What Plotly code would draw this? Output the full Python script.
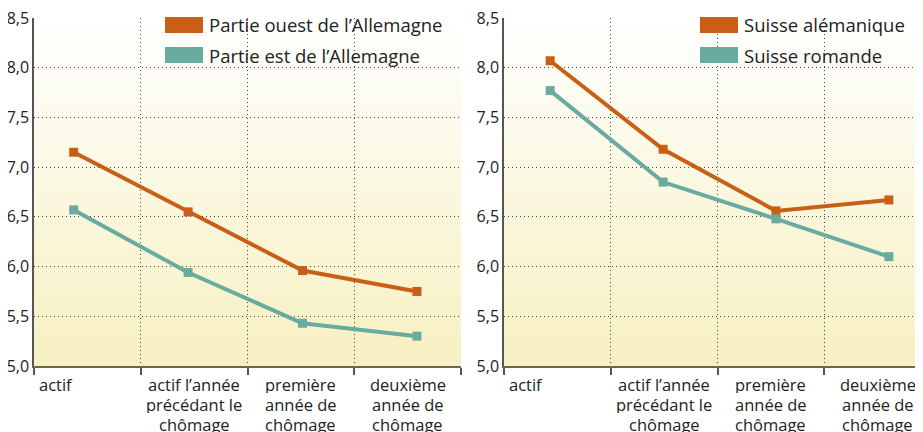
import plotly.graph_objects as go

# ---------------- data ----------------
categories = ["actif",
              "actif l’année<br>précédant le<br>chômage",
              "première<br>année de<br>chômage",
              "deuxième<br>année de<br>chômage"]
x_index = [0, 1, 2, 3]

germany_names = ["Partie ouest de l’Allemagne", "Partie est de l’Allemagne"]
west_germany = [7.15, 6.55, 5.96, 5.75]
east_germany = [6.57, 5.94, 5.43, 5.30]

swiss_names = ["Suisse alémanique", "Suisse romande"]
swiss_german = [8.07, 7.18, 6.56, 6.67]
swiss_french = [7.77, 6.85, 6.48, 6.10]

y_ticks = [5.0, 5.5, 6.0, 6.5, 7.0, 7.5, 8.0, 8.5]
y_grid = [5.5, 6.0, 6.5, 7.0, 7.5, 8.0]
boundaries = [-0.5, 0.5, 1.5, 2.5, 3.5]

# ---------------- style ----------------
ORANGE = "#c95f17"
TEAL = "#68ab9f"
FONT = "Open Sans"
TXT = "#222222"

# the page body has an 8px margin: figure coords = screen coords - 8
OFF = 8
W, H = 923, 432
ML, MR, MT, MB = 34 - OFF, OFF, 18 - OFF, H - (366 - OFF)
PW, PH = W - ML - MR, H - MT - MB


def px_x(p):
    return (p - OFF - ML) / PW


def px_y(p):
    return 1 - (p - OFF - MT) / PH


fig = go.Figure()

series = [
    (west_germany, ORANGE, "x3", "y"),
    (east_germany, TEAL, "x3", "y"),
    (swiss_german, ORANGE, "x4", "y2"),
    (swiss_french, TEAL, "x4", "y2"),
]
for vals, col, xa, ya in series:
    fig.add_trace(go.Scatter(
        x=x_index, y=vals, xaxis=xa, yaxis=ya, mode="lines+markers",
        line=dict(color=col, width=4),
        marker=dict(symbol="square", size=9, color=col),
        showlegend=False, hoverinfo="skip"))

grid_axis = dict(
    range=[-0.5, 3.5], tickmode="array", tickvals=boundaries,
    showticklabels=False, ticks="outside", ticklen=7, tickcolor="#555",
    tickwidth=1.5, showgrid=True, griddash="1px,3px", gridcolor="#444",
    gridwidth=1.2, showline=True, linecolor="#6a6852", linewidth=2,
    zeroline=False, fixedrange=True, automargin=False)

y_axis = dict(
    range=[5, 8.5], tickmode="array", tickvals=y_ticks, tickformat=".1f",
    ticks="", showgrid=False, zeroline=False, showline=True,
    linecolor="#555", linewidth=1.5, automargin=False,
    ticklabeloverflow="allow",
    tickfont=dict(family=FONT, size=16, color=TXT),
    minor=dict(tickmode="array", tickvals=y_grid, showgrid=True,
               griddash="1px,3px", gridcolor="#444", gridwidth=1.2, ticks=""))

d_left = [0, px_x(461)]
d_right = [px_x(504), 1]

fig.update_layout(
    width=W, height=H, margin=dict(l=ML, r=MR, t=MT, b=MB, autoexpand=False),
    paper_bgcolor="white", plot_bgcolor="rgba(0,0,0,0)",
    separators=", ", showlegend=False,
    font=dict(family=FONT, color=TXT),
    xaxis=dict(grid_axis, domain=d_left, anchor="y"),
    xaxis2=dict(grid_axis, domain=d_right, anchor="y2", range=[-0.5, 3.425]),
    xaxis3=dict(overlaying="x", anchor="y", range=[-0.347, 3.385],
                visible=False, automargin=False),
    xaxis4=dict(overlaying="x2", anchor="y2", range=[-0.409, 3.302],
                visible=False, automargin=False),
    yaxis=dict(y_axis, anchor="x"),
    yaxis2=dict(y_axis, anchor="x2"),
)

# background gradient (white at top to pale yellow at bottom)
top = (255, 255, 255)
bot = (247, 240, 193)
N = 60
shapes = []
for xr, yr in [("x domain", "y domain"), ("x2 domain", "y2 domain")]:
    for i in range(N):
        t = (i + 0.5) / N
        c = tuple(round(bot[k] + (top[k] - bot[k]) * t) for k in range(3))
        shapes.append(dict(type="rect", xref=xr, yref=yr, x0=0, x1=1,
                           y0=i / N, y1=(i + 1) / N + 0.002, layer="below",
                           line=dict(width=0), fillcolor="rgb(%d,%d,%d)" % c))

# custom legends (wide swatches)
annotations = []
for names, x_sw in [(germany_names, 165), (swiss_names, 700)]:
    for j, (name, col) in enumerate(zip(names, [ORANGE, TEAL])):
        yc = 25 + 30 * j
        shapes.append(dict(type="rect", xref="paper", yref="paper",
                           x0=px_x(x_sw), x1=px_x(x_sw + 38),
                           y0=px_y(yc + 8), y1=px_y(yc - 8),
                           line=dict(width=0), fillcolor=col))
        annotations.append(dict(xref="paper", yref="paper", x=px_x(x_sw + 42),
                                y=px_y(yc), xanchor="left", yanchor="middle",
                                text=name, showarrow=False,
                                font=dict(family=FONT, size=18.5, color=TXT)))

# category labels (one annotation per line, 20px line spacing)
for xr, yr in [("x", "y domain"), ("x2", "y2 domain")]:
    for i, lab in enumerate(categories):
        if i == 0:
            a = dict(x=-0.5, xanchor="left", xshift=4)
        else:
            a = dict(x=i, xanchor="center")
        for k, line in enumerate(lab.split("<br>")):
            annotations.append(dict(a, xref=xr, yref=yr, y=0, yanchor="top",
                                    yshift=-8 - 20 * k, height=18, borderpad=0,
                                    text=line, showarrow=False,
                                    font=dict(family=FONT, size=16.5, color=TXT)))

fig.update_layout(shapes=shapes, annotations=annotations)
fig.write_html("out.html")
